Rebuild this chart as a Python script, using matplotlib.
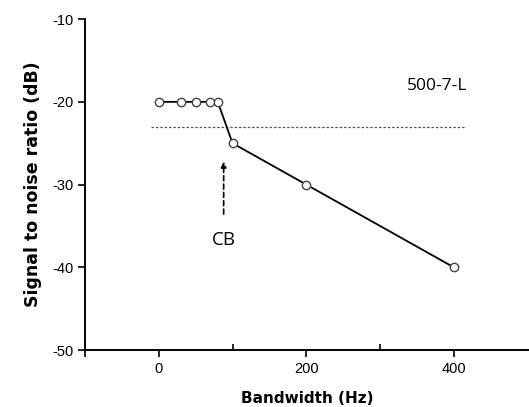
import matplotlib
matplotlib.use("Agg")
import matplotlib.pyplot as plt
from matplotlib.ticker import FixedLocator

# данные
bandwidth = [0, 30, 50, 70, 80, 100, 200, 400]
snr = [-20, -20, -20, -20, -20, -25, -30, -40]
threshold = -23.1
threshold_span = [-11, 415]
cb_x = 88

plt.rcParams["font.family"] = ["Liberation Sans", "DejaVu Sans"]
plt.rcParams["axes.unicode_minus"] = False

fig = plt.figure(figsize=(5.29, 4.07), dpi=100)
ax = fig.add_axes([0.1607, 0.140, 0.8393, 0.813])

ax.plot(threshold_span, [threshold, threshold], color="#555555", lw=0.9,
        linestyle=(0, (2, 1.5)))
ax.plot(bandwidth, snr, color="black", lw=1.3, marker="o", ms=6,
        mfc="white", mec="#444444", mew=1.0, zorder=3)

ax.annotate("", xy=(cb_x, -26.9), xytext=(cb_x, -33.9),
            arrowprops=dict(arrowstyle="-|>", color="black", lw=1.2,
                            linestyle=(0, (3, 2)), mutation_scale=8))
ax.text(cb_x, -36.7, "CB", ha="center", va="center", fontsize=13.5,
        family=["Open Sans", "DejaVu Sans"])
ax.text(377, -18.1, "500-7-L", ha="center", va="center", fontsize=12.5,
        family=["Open Sans", "DejaVu Sans"])

ax.set_xlim(-100, 502)
ax.set_ylim(-50, -10)
ax.set_xticks([-100, 0, 200, 400])
ax.set_xticklabels(["", "0", "200", "400"])
ax.xaxis.set_minor_locator(FixedLocator([100, 300]))
ax.set_yticks([-50, -40, -30, -20, -10])

for s in ["top", "right"]:
    ax.spines[s].set_visible(False)
for s in ["left", "bottom"]:
    ax.spines[s].set_linewidth(1.4)

ax.tick_params(axis="both", which="major", direction="out", length=5,
               width=1.2, labelsize=10.5)
ax.tick_params(axis="x", which="minor", direction="in", length=4, width=1.2)

ax.set_xlabel("Bandwidth (Hz)", fontsize=11, fontweight="bold", labelpad=11,
              family=["Verdana", "DejaVu Sans"])
ax.set_ylabel("Signal to noise ratio (dB)", fontsize=12.5, fontweight="bold",
              labelpad=7, family=["Verdana", "DejaVu Sans"])

fig.savefig("out.png", dpi=100)
